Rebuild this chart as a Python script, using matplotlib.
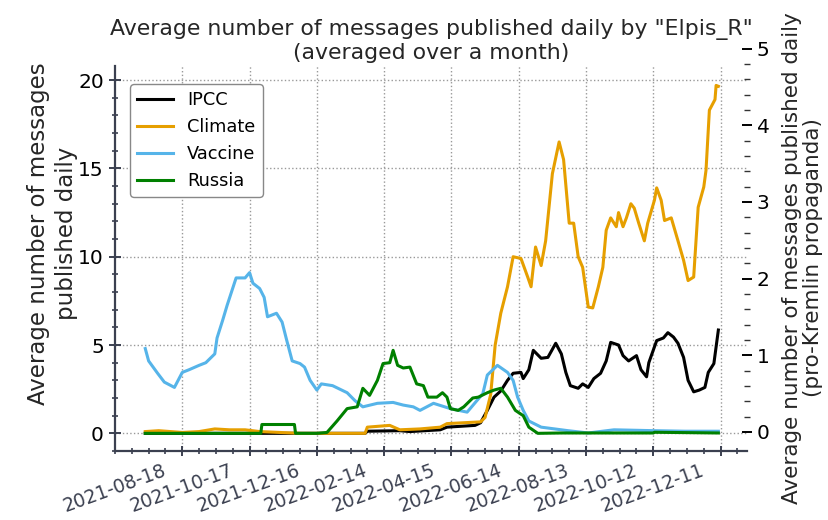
import matplotlib.pyplot as plt
import matplotlib.dates as mdates
import matplotlib.transforms as mtransforms
from matplotlib.ticker import MultipleLocator, FixedLocator
import numpy as np
import pandas as pd

ipcc_dates = ['2021-07-16', '2022-01-28', '2022-01-30', '2022-02-28', '2022-03-09', '2022-04-05',
              '2022-04-11', '2022-05-06', '2022-05-11', '2022-05-17', '2022-05-23', '2022-05-29',
              '2022-06-04', '2022-06-09', '2022-06-16', '2022-06-18', '2022-06-23', '2022-06-27',
              '2022-07-04', '2022-07-10', '2022-07-17', '2022-07-22', '2022-07-26', '2022-07-30',
              '2022-08-06', '2022-08-10', '2022-08-15', '2022-08-20', '2022-08-26', '2022-08-31',
              '2022-09-04', '2022-09-11', '2022-09-15', '2022-09-20', '2022-09-27', '2022-10-01',
              '2022-10-06', '2022-10-08', '2022-10-15', '2022-10-21', '2022-10-25', '2022-10-30',
              '2022-11-03', '2022-11-08', '2022-11-12', '2022-11-17', '2022-11-22', '2022-11-27',
              '2022-11-30', '2022-12-05', '2022-12-09']
ipcc_values = [0.0, 0.0, 0.12, 0.15, 0.1, 0.2,
               0.35, 0.45, 0.6, 1.3, 2.05, 2.4,
               3.0, 3.4, 3.45, 3.1, 3.6, 4.7,
               4.25, 4.3, 5.1, 4.5, 3.45, 2.7,
               2.55, 2.8, 2.6, 3.1, 3.4, 4.1,
               5.15, 5.0, 4.4, 4.1, 4.4, 3.6,
               3.2, 4.0, 5.25, 5.4, 5.7, 5.45,
               5.1, 4.3, 3.0, 2.35, 2.45, 2.6,
               3.45, 3.95, 5.85]

climate_dates = ['2021-07-16', '2021-07-28', '2021-08-18', '2021-09-02', '2021-09-16', '2021-09-29',
                 '2021-10-13', '2021-10-26', '2021-11-13', '2021-12-01', '2022-01-28', '2022-01-30',
                 '2022-02-19', '2022-02-28', '2022-03-18', '2022-04-05', '2022-04-11', '2022-05-11',
                 '2022-05-15', '2022-05-20', '2022-05-24', '2022-05-29', '2022-06-04', '2022-06-09',
                 '2022-06-16', '2022-06-22', '2022-06-25', '2022-06-29', '2022-07-04', '2022-07-08',
                 '2022-07-14', '2022-07-20', '2022-07-24', '2022-07-29', '2022-08-02', '2022-08-06',
                 '2022-08-10', '2022-08-15', '2022-08-19', '2022-08-24', '2022-08-28', '2022-08-31',
                 '2022-09-04', '2022-09-09', '2022-09-11', '2022-09-15', '2022-09-18', '2022-09-22',
                 '2022-09-25', '2022-09-29', '2022-10-04', '2022-10-07', '2022-10-13', '2022-10-15',
                 '2022-10-19', '2022-10-22', '2022-10-28', '2022-11-03', '2022-11-08', '2022-11-12',
                 '2022-11-17', '2022-11-21', '2022-11-26', '2022-11-28', '2022-12-01', '2022-12-06',
                 '2022-12-07', '2022-12-09']
climate_values = [0.1, 0.15, 0.05, 0.1, 0.25, 0.2,
                  0.2, 0.1, 0.05, 0.0, 0.0, 0.35,
                  0.45, 0.2, 0.25, 0.35, 0.55, 0.65,
                  0.9, 2.2, 5.0, 6.8, 8.3, 10.0,
                  9.9, 8.85, 8.3, 10.55, 9.5, 10.9,
                  14.7, 16.5, 15.5, 11.9, 11.9, 10.0,
                  9.4, 7.15, 7.1, 8.3, 9.4, 11.5,
                  12.2, 11.7, 12.5, 11.7, 12.2, 13.0,
                  12.75, 11.9, 10.9, 11.9, 13.2, 13.9,
                  13.2, 12.05, 12.2, 10.9, 9.8, 8.65,
                  8.85, 12.8, 13.95, 14.9, 18.3, 18.9,
                  19.7, 19.65]

vaccine_dates = ['2021-07-16', '2021-07-19', '2021-07-27', '2021-08-02', '2021-08-11', '2021-08-18',
                 '2021-08-24', '2021-09-02', '2021-09-08', '2021-09-16', '2021-09-18', '2021-09-23',
                 '2021-09-27', '2021-10-05', '2021-10-13', '2021-10-17', '2021-10-20', '2021-10-26',
                 '2021-10-30', '2021-11-02', '2021-11-10', '2021-11-15', '2021-11-19', '2021-11-24',
                 '2021-12-01', '2021-12-05', '2021-12-10', '2021-12-16', '2021-12-20', '2021-12-30',
                 '2022-01-12', '2022-01-19', '2022-01-26', '2022-02-08', '2022-02-22', '2022-03-03',
                 '2022-03-12', '2022-03-18', '2022-03-30', '2022-04-14', '2022-04-29', '2022-05-13',
                 '2022-05-17', '2022-05-26', '2022-06-04', '2022-06-09', '2022-06-13', '2022-06-18',
                 '2022-06-23', '2022-07-04', '2022-07-28', '2022-08-15', '2022-09-07', '2022-10-13',
                 '2022-11-09', '2022-12-09']
vaccine_values = [4.8, 4.1, 3.4, 2.9, 2.6, 3.45,
                  3.6, 3.85, 4.0, 4.5, 5.4, 6.4,
                  7.25, 8.8, 8.8, 9.1, 8.5, 8.2,
                  7.7, 6.6, 6.8, 6.3, 5.3, 4.1,
                  3.95, 3.75, 3.0, 2.45, 2.8, 2.7,
                  2.3, 1.85, 1.5, 1.7, 1.75, 1.6,
                  1.5, 1.3, 1.7, 1.4, 1.2, 2.25,
                  3.3, 3.85, 3.45, 3.0, 2.05, 1.3,
                  0.7, 0.35, 0.15, 0.02, 0.2, 0.15,
                  0.12, 0.12]

russia_dates = ['2021-07-16', '2021-10-27', '2021-10-28', '2021-11-26', '2021-11-27', '2021-12-16',
                '2021-12-25', '2022-01-03', '2022-01-12', '2022-01-21', '2022-01-26', '2022-02-01',
                '2022-02-08', '2022-02-13', '2022-02-19', '2022-02-22', '2022-02-26', '2022-03-03',
                '2022-03-09', '2022-03-15', '2022-03-21', '2022-03-25', '2022-04-02', '2022-04-07',
                '2022-04-11', '2022-04-14', '2022-04-21', '2022-04-26', '2022-05-04', '2022-05-09',
                '2022-05-17', '2022-05-23', '2022-05-29', '2022-06-04', '2022-06-11', '2022-06-18',
                '2022-06-23', '2022-07-01', '2022-07-22', '2022-10-12', '2022-10-13', '2022-12-09']
russia_values = [0.0, 0.0, 0.5, 0.5, 0.0, 0.0,
                 0.05, 0.7, 1.4, 1.5, 2.55, 2.15,
                 3.0, 3.95, 4.0, 4.7, 3.85, 3.7,
                 3.75, 2.8, 2.7, 2.05, 2.05, 2.3,
                 2.05, 1.4, 1.3, 1.5, 2.0, 2.05,
                 2.3, 2.45, 2.55, 2.05, 1.3, 1.0,
                 0.35, 0.0, 0.02, 0.02, 0.06, 0.02]

series = [('IPCC', ipcc_dates, ipcc_values, 'black'),
          ('Climate', climate_dates, climate_values, '#E69F00'),
          ('Vaccine', vaccine_dates, vaccine_values, '#56B4E9'),
          ('Russia', russia_dates, russia_values, 'green')]

major_dates = pd.date_range('2021-08-18', periods=9, freq='60D')
minor_dates = pd.date_range('2021-06-19', '2023-01-05', freq='15D')

spine_col = '#3b4050'

fig = plt.figure(figsize=(8.29, 5.2), dpi=100)
ax = fig.add_axes([0.1387, 0.1327, 0.7624, 0.7404])
ax2 = fig.add_axes([0.1387, 0.1327, 0.7624, 0.775])

for name, d, v, c in series:
    ax.plot(pd.to_datetime(d), v, color=c, lw=2.2, label=name)

ax.set_ylim(-1.0, 20.8)
ax.set_xticks(major_dates)
ax.set_xticks(minor_dates, minor=True)
ax.xaxis.set_major_formatter(mdates.DateFormatter('%Y-%m-%d'))
ax.yaxis.set_major_locator(MultipleLocator(5))
ax.yaxis.set_minor_locator(MultipleLocator(1))
ax.grid(True, which='major', linestyle=':', color='#999999', lw=1)

for s in ['top', 'right']:
    ax.spines[s].set_visible(False)
for s in ['left', 'bottom']:
    ax.spines[s].set_color(spine_col)
    ax.spines[s].set_linewidth(1.6)

ax.tick_params(axis='y', which='major', direction='inout', length=9, width=1.4,
               color=spine_col, labelsize=14.5, labelcolor='black')
ax.tick_params(axis='y', which='minor', direction='inout', length=4.5, width=1.2, color=spine_col)
ax.tick_params(axis='x', which='major', direction='inout', length=7, width=1.4,
               color=spine_col, labelsize=13.5, labelcolor=spine_col)
ax.tick_params(axis='x', which='minor', direction='inout', length=4, width=1.2, color=spine_col)
shift = mtransforms.ScaledTranslation(-0.14, 0, fig.dpi_scale_trans)
for lab in ax.get_xticklabels():
    lab.set_rotation(20)
    lab.set_ha('right')
    lab.set_transform(lab.get_transform() + shift)

ax.set_ylabel('Average number of messages\npublished daily', fontsize=16.5, color='#262626',
              linespacing=1.3)
ax.yaxis.set_label_coords(-0.058, 0.564)
ax.set_title('Average number of messages published daily by "Elpis_R"\n(averaged over a month)',
             fontsize=15.8, color='#262626', pad=5)

ax.legend(loc='upper left', bbox_to_anchor=(0.024, 0.953), borderaxespad=0,
          fontsize=12.8, edgecolor='#888888', framealpha=1)

ax2.patch.set_visible(False)
for s in ax2.spines.values():
    s.set_visible(False)
ax2.set_xticks([])
ax2.yaxis.tick_right()
ax2.yaxis.set_label_position('right')
ax2.set_ylim(-0.25, 5.01)
ax2.yaxis.set_major_locator(MultipleLocator(1))
ax2.yaxis.set_minor_locator(FixedLocator(np.arange(0, 5.01, 0.2)))
ax2.tick_params(axis='y', which='major', direction='inout', length=7, width=1.4,
                color='black', labelsize=14.5)
ax2.tick_params(axis='y', which='minor', direction='inout', length=5, width=1.0, color='#333333')
ax2.set_ylabel('Average number of messages published daily\n(pro-Kremlin propaganda)',
               fontsize=15.5, color='#262626', linespacing=1.1)
ax2.yaxis.set_label_coords(1.055, 0.479)

fig.savefig('out.png', dpi=100)
